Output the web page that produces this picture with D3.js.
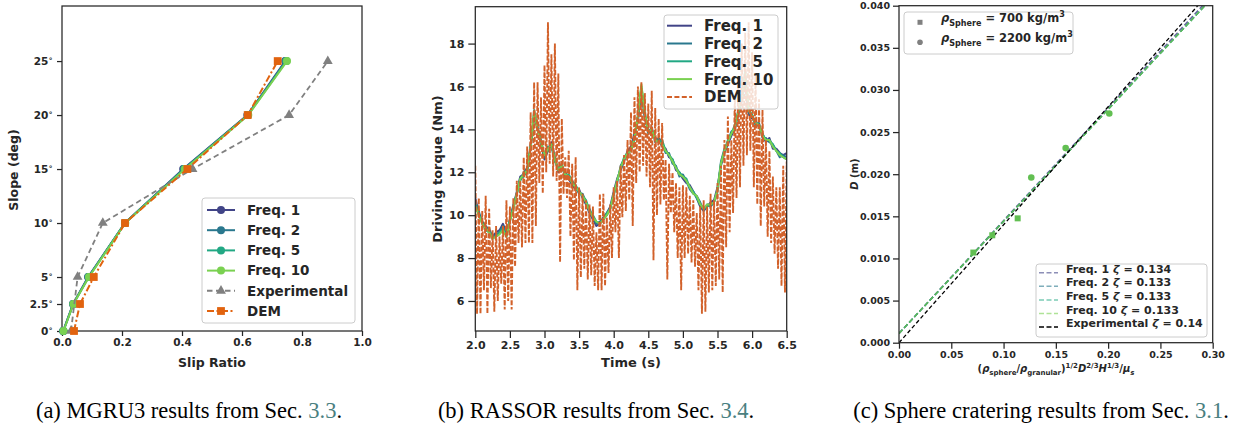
<!DOCTYPE html>
<html>
<head>
<meta charset="utf-8">
<script src="https://cdn.jsdelivr.net/npm/d3@7"></script>
<style>
  body { margin: 0; background: #fff; }
  svg { display: block; }
  text { font-family: "DejaVu Sans", sans-serif; fill: #262626; }
</style>
</head>
<body>
<svg id="chart"></svg>
<script>
// ---------- (a) MGRU3 slip vs slope ----------
let slopeLevels = [0, 2.5, 5, 10, 15, 20, 25];
let freq1Slip = [0.004, 0.037, 0.087, 0.21, 0.404, 0.618, 0.744];
let freq2Slip = [0.004, 0.037, 0.088, 0.21, 0.406, 0.619, 0.746];
let freq5Slip = [0.005, 0.038, 0.089, 0.21, 0.408, 0.620, 0.748];
let freq10Slip = [0.005, 0.038, 0.090, 0.211, 0.410, 0.621, 0.750];
let expSlopes = [0, 5, 10, 15, 20, 25];
let expSlip = [0.03, 0.052, 0.136, 0.435, 0.757, 0.886];
let demSlip = [0.04, 0.06, 0.106, 0.21, 0.418, 0.619, 0.719];
let slopeTicks = [0, 2.5, 5, 10, 15, 20, 25];
let slipTicks = [0, 0.2, 0.4, 0.6, 0.8, 1.0];

// ---------- (b) RASSOR driving torque ----------
let freqStart = 2.0, freqStep = 0.05;
let freq1Torque = [10.8,10.1,9.7,9.5,9.3,9.0,9.2,9.3,9.6,9.2,
  9.8,10.4,11.1,11.8,11.9,12.0,13.3,14.6,14.1,13.3,
  12.6,13.0,13.4,12.7,12.0,12.2,12.0,11.7,11.4,11.2,
  11.2,10.8,10.5,10.1,9.8,9.5,9.6,9.9,10.1,10.4,
  11.1,11.7,12.1,12.5,13.0,13.2,13.8,14.4,15.8,14.5,
  14.0,13.8,13.6,13.5,13.2,13.1,12.7,12.6,12.1,12.0,
  11.7,11.5,11.4,11.1,10.8,10.4,10.2,10.4,10.6,10.7,
  11.3,12.3,12.9,13.3,13.7,14.0,14.7,15.3,16.2,14.7,
  14.5,14.4,14.1,13.8,13.4,13.6,13.1,13.1,12.9,12.8,12.9];
let freq2Torque = [10.6,10.2,9.6,9.4,9.4,8.9,9.1,9.2,9.5,9.1,
  9.7,10.5,11.0,11.6,12.0,12.2,13.1,14.7,14.0,13.5,
  12.7,13.2,13.2,12.5,12.2,12.3,11.8,11.8,11.5,11.3,
  11.0,11.0,10.6,10.3,9.9,9.6,9.7,9.8,10.0,10.3,
  11.0,11.5,12.3,12.6,12.8,13.1,13.7,14.5,15.9,14.6,
  13.8,14.1,13.4,13.6,13.4,12.9,12.9,12.4,12.3,11.8,
  11.9,11.6,11.2,11.0,10.9,10.6,10.2,10.5,10.4,10.6,
  11.2,12.5,13.1,13.4,13.9,14.0,14.9,15.5,16.4,14.8,
  14.6,14.2,14.3,13.6,13.6,13.4,13.3,13.0,12.7,12.8,12.7];
let freq5Torque = [10.5,10.0,9.7,9.3,9.2,9.0,9.0,9.2,9.4,9.0,
  9.8,10.3,11.0,11.7,11.8,12.1,13.2,14.9,14.1,13.4,
  12.8,13.0,13.3,12.6,12.1,12.4,11.9,11.9,11.6,11.4,
  11.1,10.9,10.7,10.2,10.0,9.7,9.6,9.8,10.1,10.3,
  10.9,11.6,12.2,12.7,12.9,13.0,13.5,14.7,16.0,14.8,
  13.9,14.0,13.6,13.4,13.5,13.0,12.8,12.6,12.2,12.0,
  11.8,11.7,11.3,11.1,10.8,10.5,10.3,10.4,10.5,10.6,
  11.1,12.4,13.0,13.5,13.8,14.2,14.8,15.4,16.7,14.9,
  14.7,14.3,14.2,13.8,13.5,13.5,13.3,13.0,12.9,12.7,12.6];
let freq10Torque = [10.4,10.0,9.6,9.4,9.2,8.9,9.0,9.1,9.3,9.0,
  9.7,10.3,11.0,11.7,11.9,12.1,13.2,14.8,14.0,13.4,
  12.8,13.1,13.3,12.6,12.1,12.3,11.9,11.8,11.5,11.3,
  11.1,10.9,10.6,10.2,9.9,9.7,9.6,9.8,10.0,10.3,
  11.0,11.6,12.2,12.6,12.9,13.0,13.6,14.6,16.1,14.7,
  13.9,14.0,13.5,13.4,13.3,13.0,12.8,12.5,12.2,11.9,
  11.8,11.6,11.3,11.0,10.9,10.5,10.3,10.5,10.5,10.6,
  11.2,12.4,13.0,13.4,13.8,14.1,14.8,15.4,16.6,14.9,
  14.6,14.3,14.2,13.7,13.5,13.5,13.2,13.0,12.8,12.7,12.6];
let demStart = 2.0, demStep = 0.025;
let demTorque = [
  12.3,5.4, 10.8,5.4, 10.2,6.5, 10.9,5.4, 10.3,6.6, 9.3,5.5, 9.5,6.0, 9.0,6.8,
  9.5,5.6, 10.7,6.0, 10.4,5.6, 10.8,7.6, 11.6,8.7, 11.6,8.5, 12.7,8.7, 13.2,8.7,
  14.8,8.7, 16.2,9.5, 16.2,11.5, 15.5,11.0, 17.0,12.0, 19.0,12.4, 17.5,11.8, 18.0,11.6,
  16.6,7.8, 14.5,11.0, 12.7,10.8, 13.0,9.0, 12.4,7.9, 12.7,6.5, 11.3,7.1, 11.0,7.5,
  10.7,7.0, 10.5,7.2, 10.4,6.7, 9.2,6.5, 11.0,6.5, 11.0,6.7, 9.9,7.3, 10.5,8.0,
  11.3,9.2, 11.6,8.0, 12.3,9.9, 12.8,10.2, 13.5,10.7, 14.8,9.5, 15.5,11.5, 16.0,12.0,
  16.2,12.3, 15.7,11.8, 15.2,11.3, 15.8,7.9, 15.0,10.0, 14.5,10.5, 14.3,10.7, 12.6,7.0,
  12.4,10.1, 12.0,9.2, 11.5,8.0, 11.3,6.5, 11.4,8.0, 11.3,8.2, 10.9,7.8, 10.7,7.6,
  10.1,6.5, 10.4,5.4, 10.7,5.5, 10.4,6.4, 11.0,6.5, 10.7,6.7, 11.5,7.0, 12.3,6.4,
  13.5,8.5, 14.6,9.2, 13.5,10.1, 15.5,10.8, 16.2,11.3, 18.0,12.3, 18.5,12.8, 19.0,13.0,
  17.6,11.3, 16.5,10.5, 15.4,9.5, 14.9,10.4, 13.5,9.0, 13.0,8.7, 11.8,8.2, 11.3,7.5,
  11.3,6.7, 12.3,6.4, 12.5,9.0];
let timeTicks = [2.0, 2.5, 3.0, 3.5, 4.0, 4.5, 5.0, 5.5, 6.0, 6.5];
let torqueTicks = [6, 8, 10, 12, 14, 16, 18];

// ---------- (c) sphere cratering ----------
let sphere700X = [0.0711, 0.0892, 0.1135];
let sphere700Y = [0.0107, 0.01275, 0.01476];
let sphere2200X = [0.1265, 0.1594, 0.2011];
let sphere2200Y = [0.0196, 0.0231, 0.0272];
let fitX = [0, 0.3];
let freq1Fit = [0.0011, 0.0413];
let freq2Fit = [0.0011, 0.0410];
let freq5Fit = [0.0011, 0.0410];
let freq10Fit = [0.0011, 0.0410];
let expFit = [0, 0.042];
let zetaLabels = ["Freq. 1 ", "Freq. 2 ", "Freq. 5 ", "Freq. 10 ", "Experimental "];
let zetaValues = ["0.134", "0.133", "0.133", "0.133", "0.14"];
let scaledTicks = [0, 0.05, 0.1, 0.15, 0.2, 0.25, 0.3];
let diameterTicks = [0, 0.005, 0.01, 0.015, 0.02, 0.025, 0.03, 0.035, 0.04];

let captionText = ["(a) MGRU3 results from Sec. ", "(b) RASSOR results from Sec. ", "(c) Sphere cratering results from Sec. "];
let captionRefs = ["3.3", "3.4", "3.1"];

let freqNames = ["Freq. 1", "Freq. 2", "Freq. 5", "Freq. 10"];
let freqColors = ["#414487", "#2a788e", "#22a884", "#7ad151"];
let axisColor = "#262626";
let demColor = "#d2612a";

let svg = d3.select("#chart").attr("width", 1241).attr("height", 434);

let styleAxis = (g, size) => {
  g.select(".domain").remove();
  g.attr("font-family", "DejaVu Sans").attr("font-size", size).attr("font-weight", "bold");
  g.selectAll(".tick line").attr("stroke", axisColor).attr("stroke-width", 1.25);
};

let frame = (x, y) => {
  svg.append("rect")
    .attr("x", x.range()[0]).attr("y", y.range()[1])
    .attr("width", x.range()[1] - x.range()[0])
    .attr("height", y.range()[0] - y.range()[1])
    .attr("fill", "none").attr("stroke", axisColor).attr("stroke-width", 1.25);
};

let clipFor = (id, x, y) => {
  svg.append("clipPath").attr("id", id).append("rect")
    .attr("x", x.range()[0]).attr("y", y.range()[1])
    .attr("width", x.range()[1] - x.range()[0])
    .attr("height", y.range()[0] - y.range()[1]);
};

let richText = (sel, parts, size) => {
  let shift = 0;
  parts.forEach((p) => {
    let target = p.sub ? size * 0.28 : p.sup ? -size * 0.42 : 0;
    let ts = sel.append("tspan").text(p.t).attr("dy", target - shift);
    if (p.sub || p.sup) ts.attr("font-size", size * 0.7);
    if (p.it) ts.attr("font-style", "italic");
    shift = target;
  });
};

let legendBox = (x, y, w, h, alpha) => {
  svg.append("rect").attr("x", x).attr("y", y).attr("width", w).attr("height", h)
    .attr("rx", 3).attr("fill", "#fff").attr("fill-opacity", alpha)
    .attr("stroke", "#cccccc").attr("stroke-width", 1);
};

// ================= panel (a) =================
let xA = d3.scaleLinear().domain([0, 1]).range([62, 362]);
let yA = d3.scaleLinear().domain([0, 30.1]).range([331, 6]);

let axA = svg.append("g").attr("transform", "translate(0,331)")
  .call(d3.axisBottom(xA).tickValues(slipTicks).tickFormat(d3.format(".1f")).tickSize(5).tickPadding(3));
styleAxis(axA, 10.5);
let ayA = svg.append("g").attr("transform", "translate(62,0)")
  .call(d3.axisLeft(yA).tickValues(slopeTicks).tickFormat((d) => d).tickSize(5).tickPadding(4));
styleAxis(ayA, 10.5);
ayA.selectAll(".tick text").each(function (d) {
  let t = d3.select(this).text("");
  t.append("tspan").text(d);
  t.append("tspan").text("\u2218").attr("font-size", 7.5).attr("dy", -4);
});
frame(xA, yA);

svg.append("text").attr("x", 212).attr("y", 367).attr("text-anchor", "middle")
  .attr("font-size", 12.5).attr("font-weight", "bold").text("Slip Ratio");
svg.append("text").attr("transform", "translate(18,170) rotate(-90)").attr("text-anchor", "middle")
  .attr("font-size", 12.5).attr("font-weight", "bold").text("Slope (deg)");

let gA = svg.append("g");
let lineA = (xs, ys) => d3.line().x((d, i) => xA(xs[i])).y((d, i) => yA(ys[i]))(xs);

[freq1Slip, freq2Slip, freq5Slip, freq10Slip].forEach((slips, k) => {
  gA.append("path").attr("d", lineA(slips, slopeLevels)).attr("fill", "none")
    .attr("stroke", freqColors[k]).attr("stroke-width", 2);
  gA.selectAll(null).data(slips).enter().append("circle")
    .attr("cx", (d) => xA(d)).attr("cy", (d, i) => yA(slopeLevels[i])).attr("r", 4)
    .attr("fill", freqColors[k]);
});
gA.append("path").attr("d", lineA(expSlip, expSlopes)).attr("fill", "none")
  .attr("stroke", "#808080").attr("stroke-width", 1.8).attr("stroke-dasharray", "5.5,3.5");
gA.selectAll(null).data(expSlip).enter().append("path")
  .attr("d", d3.symbol(d3.symbolTriangle, 42)())
  .attr("transform", (d, i) => `translate(${xA(d)},${yA(expSlopes[i])})`)
  .attr("fill", "#808080");
gA.append("path").attr("d", lineA(demSlip, slopeLevels)).attr("fill", "none")
  .attr("stroke", "#e1630f").attr("stroke-width", 2).attr("stroke-dasharray", "7,2.5,2,2.5");
gA.selectAll(null).data(demSlip).enter().append("rect")
  .attr("x", (d) => xA(d) - 3.9).attr("y", (d, i) => yA(slopeLevels[i]) - 3.9)
  .attr("width", 7.8).attr("height", 7.8).attr("fill", "#e1630f");

// legend (a)
legendBox(202, 198, 153, 125, 0.8);
let legA = [
  { name: "Freq. 1", color: freqColors[0], mark: "circle", dash: null },
  { name: "Freq. 2", color: freqColors[1], mark: "circle", dash: null },
  { name: "Freq. 5", color: freqColors[2], mark: "circle", dash: null },
  { name: "Freq. 10", color: freqColors[3], mark: "circle", dash: null },
  { name: "Experimental", color: "#808080", mark: "tri", dash: "5.5,3.5" },
  { name: "DEM", color: "#e1630f", mark: "sq", dash: "7,2.5,2,2.5" }
];
legA.forEach((e, i) => {
  let y = 210 + i * 20.2;
  svg.append("line").attr("x1", 207).attr("x2", 235).attr("y1", y).attr("y2", y)
    .attr("stroke", e.color).attr("stroke-width", 2).attr("stroke-dasharray", e.dash);
  if (e.mark === "circle") svg.append("circle").attr("cx", 221).attr("cy", y).attr("r", 4).attr("fill", e.color);
  if (e.mark === "tri") svg.append("path").attr("d", d3.symbol(d3.symbolTriangle, 42)())
    .attr("transform", `translate(221,${y})`).attr("fill", e.color);
  if (e.mark === "sq") svg.append("rect").attr("x", 217.1).attr("y", y - 3.9).attr("width", 7.8).attr("height", 7.8).attr("fill", e.color);
  svg.append("text").attr("x", 247).attr("y", y).attr("dy", "0.36em")
    .attr("font-size", 13.5).attr("font-weight", "bold").text(e.name);
});

// ================= panel (b) =================
let xB = d3.scaleLinear().domain([2, 6.5]).range([475.3, 786.7]);
let yB = d3.scaleLinear().domain([4.6, 19.72]).range([331, 6.7]);

let axB = svg.append("g").attr("transform", "translate(0,331)")
  .call(d3.axisBottom(xB).tickValues(timeTicks).tickFormat(d3.format(".1f")).tickSize(7).tickPadding(3));
styleAxis(axB, 11);
let ayB = svg.append("g").attr("transform", "translate(475.3,0)")
  .call(d3.axisLeft(yB).tickValues(torqueTicks).tickSize(7).tickPadding(4));
styleAxis(ayB, 11);

svg.append("text").attr("x", 631).attr("y", 367).attr("text-anchor", "middle")
  .attr("font-size", 13).attr("font-weight", "bold").text("Time (s)");
svg.append("text").attr("transform", "translate(442,169) rotate(-90)").attr("text-anchor", "middle")
  .attr("font-size", 13).attr("font-weight", "bold").text("Driving torque (Nm)");

clipFor("clipB", xB, yB);
let gB = svg.append("g").attr("clip-path", "url(#clipB)");
let seriesLine = (start, step) => d3.line().x((d, i) => xB(start + i * step)).y((d) => yB(d));

[freq1Torque, freq2Torque, freq5Torque, freq10Torque].forEach((vals, k) => {
  gB.append("path").attr("d", seriesLine(freqStart, freqStep)(vals)).attr("fill", "none")
    .attr("stroke", freqColors[k]).attr("stroke-width", 2).attr("stroke-linejoin", "round");
});
gB.append("path").attr("d", seriesLine(demStart, demStep)(demTorque)).attr("fill", "none")
  .attr("stroke", demColor).attr("stroke-width", 1.9).attr("stroke-dasharray", "5,1.8");
frame(xB, yB);

// legend (b)
legendBox(664, 15, 114, 94, 0.8);
freqNames.concat(["DEM"]).forEach((name, i) => {
  let y = 25.7 + i * 17.8;
  svg.append("line").attr("x1", 667).attr("x2", 692).attr("y1", y).attr("y2", y)
    .attr("stroke", i < 4 ? freqColors[i] : demColor).attr("stroke-width", 2)
    .attr("stroke-dasharray", i < 4 ? null : "5,2.4");
  svg.append("text").attr("x", 704).attr("y", y).attr("dy", "0.36em")
    .attr("font-size", 15).attr("font-weight", "bold").text(name);
});

// ================= panel (c) =================
let xC = d3.scaleLinear().domain([0, 0.3]).range([899, 1212.7]);
let yC = d3.scaleLinear().domain([0, 0.04]).range([342.7, 5.7]);

let axC = svg.append("g").attr("transform", "translate(0,342.7)")
  .call(d3.axisBottom(xC).tickValues(scaledTicks).tickFormat(d3.format(".2f")).tickSize(6).tickPadding(3));
styleAxis(axC, 9.5);
let ayC = svg.append("g").attr("transform", "translate(899,0)")
  .call(d3.axisLeft(yC).tickValues(diameterTicks).tickFormat(d3.format(".3f")).tickSize(6).tickPadding(3));
styleAxis(ayC, 9.5);

let xlabC = svg.append("text").attr("x", 1056).attr("y", 372).attr("text-anchor", "middle")
  .attr("font-size", 10).attr("font-weight", "bold");
richText(xlabC, [
  { t: "(" }, { t: "ρ", it: true }, { t: "sphere", sub: true }, { t: "/" },
  { t: "ρ", it: true }, { t: "granular", sub: true }, { t: ")" }, { t: "1/2", sup: true },
  { t: "D", it: true }, { t: "2/3", sup: true }, { t: "H", it: true }, { t: "1/3", sup: true },
  { t: "/" }, { t: "μ", it: true }, { t: "s", sub: true, it: true }
], 10);
let ylabC = svg.append("text").attr("transform", "translate(858,174) rotate(-90)").attr("text-anchor", "middle")
  .attr("font-size", 10).attr("font-weight", "bold");
richText(ylabC, [{ t: "D", it: true }, { t: " (m)" }], 10);

clipFor("clipC", xC, yC);
let gC = svg.append("g").attr("clip-path", "url(#clipC)");
let fitLine = (ys) => d3.line().x((d, i) => xC(fitX[i])).y((d) => yC(d))(ys);
[freq1Fit, freq2Fit, freq5Fit, freq10Fit].forEach((ys, k) => {
  gC.append("path").attr("d", fitLine(ys)).attr("fill", "none")
    .attr("stroke", k === 3 ? "#6cc24a" : freqColors[k]).attr("stroke-opacity", 0.8)
    .attr("stroke-width", 1.5).attr("stroke-dasharray", "5,2.5");
});
gC.append("path").attr("d", fitLine(expFit)).attr("fill", "none")
  .attr("stroke", "#000").attr("stroke-width", 1.3).attr("stroke-dasharray", "4,2.5");
gC.selectAll(null).data(sphere700X).enter().append("rect")
  .attr("x", (d) => xC(d) - 3).attr("y", (d, i) => yC(sphere700Y[i]) - 3)
  .attr("width", 6).attr("height", 6).attr("fill", "#62bf52");
gC.selectAll(null).data(sphere2200X).enter().append("circle")
  .attr("cx", (d) => xC(d)).attr("cy", (d, i) => yC(sphere2200Y[i])).attr("r", 3.3)
  .attr("fill", "#62bf52");
frame(xC, yC);

// legend (c) markers
legendBox(904, 12, 169, 42, 0.8);
svg.append("rect").attr("x", 917.5).attr("y", 19.8).attr("width", 5).attr("height", 5).attr("fill", "#808080");
svg.append("circle").attr("cx", 920).attr("cy", 42.3).attr("r", 2.8).attr("fill", "#808080");
["700", "2200"].forEach((v, i) => {
  let t = svg.append("text").attr("x", 941).attr("y", 22.3 + i * 20).attr("dy", "0.36em")
    .attr("font-size", 11.5).attr("font-weight", "bold");
  richText(t, [{ t: "ρ", it: true }, { t: "Sphere", sub: true }, { t: " = " + v + " kg/m" }, { t: "3", sup: true }], 11.5);
});

// legend (c) fits
legendBox(1036, 264, 171, 73, 0.8);
zetaLabels.forEach((lab, i) => {
  let y = 272.7 + i * 13.6;
  svg.append("line").attr("x1", 1039).attr("x2", 1058).attr("y1", y).attr("y2", y)
    .attr("stroke", i < 4 ? freqColors[i] : "#000").attr("stroke-opacity", i < 4 ? 0.6 : 1)
    .attr("stroke-width", 1.5).attr("stroke-dasharray", "5,2.5");
  let t = svg.append("text").attr("x", 1066).attr("y", y).attr("dy", "0.36em")
    .attr("font-size", 11).attr("font-weight", "bold");
  richText(t, [{ t: lab }, { t: "ζ", it: true }, { t: " = " + zetaValues[i] }], 11);
});

// ================= captions =================
let capCenter = [189, 596, 1041];
captionText.forEach((c, i) => {
  let t = svg.append("text").attr("x", capCenter[i]).attr("y", 418).attr("text-anchor", "middle")
    .style("font-family", "'Liberation Serif', serif").attr("font-size", 22.5);
  t.append("tspan").text(c).style("fill", "#000");
  t.append("tspan").text(captionRefs[i]).style("fill", "#4a8080");
  t.append("tspan").text(".").style("fill", "#000");
});
</script>
</body>
</html>
